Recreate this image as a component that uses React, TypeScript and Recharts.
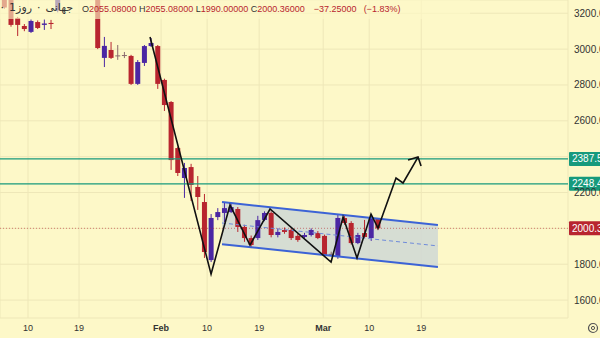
import React from 'react';
import {
  ComposedChart,
  Bar,
  Line,
  Area,
  XAxis,
  YAxis,
  CartesianGrid,
  ReferenceLine
} from 'recharts';

// daily candles, x is the bar index (hidden bars above the pane are left out)
const candleDay = [-1, 0, 1, 2, 3, 4, 5, 6, 7, 13, 14, 15, 16, 17, 18, 19, 20, 21, 22, 23, 24, 25, 26, 27, 28, 29, 30, 31, 32, 33, 34, 35, 36, 37, 38, 39, 40, 41, 42, 43, 44, 45, 46, 47, 48, 49, 50, 51, 52, 53, 54, 55];
const candleOpen = [3300, 3290, 3174, 3129, 3096, 3151, 3135, 3146, 3215, 3280, 2951, 2995, 2965, 2967, 2962, 2806, 2923, 3017, 3017, 2828, 2705, 2448, 2281, 2342, 2231, 2147, 1823, 2063, 2086, 2091, 2108, 2008, 1946, 1946, 2047, 2086, 1963, 1991, 1991, 1958, 1952, 1963, 1974, 1958, 1858, 1840, 2058, 2030, 1918, 1974, 1946, 2055.08];
const candleHigh = [3310, 3300, 3180, 3140, 3165, 3160, 3165, 3163, 3300, 3290, 3068, 3040, 3023, 2984, 2968, 2939, 3023, 3062, 3023, 2835, 2710, 2455, 2365, 2360, 2292, 2192, 2080, 2113, 2147, 2141, 2119, 2020, 1960, 2070, 2095, 2095, 2000, 2005, 2000, 1970, 1975, 2000, 1985, 1965, 1870, 2075, 2075, 2040, 1975, 2047, 2080, 2055.08];
const candleLow = [3225, 3125, 3073, 3100, 3090, 3112, 3107, 3112, 3205, 3000, 2900, 2945, 2940, 2950, 2800, 2800, 2906, 3012, 2778, 2655, 2326, 2292, 2170, 2153, 2103, 1835, 1812, 2046, 2035, 2086, 1980, 1925, 1890, 1935, 2040, 1950, 1950, 1970, 1935, 1925, 1945, 1955, 1940, 1840, 1850, 1830, 2020, 1910, 1912, 1945, 1930, 1990];
const candleClose = [3232, 3135, 3135, 3112, 3157, 3118, 3143, 3140, 3285, 3006, 3018, 2951, 2965, 2967, 2806, 2928, 3017, 3034, 2806, 2688, 2381, 2309, 2337, 2242, 2175, 1868, 2058, 2091, 2113, 2119, 2008, 1946, 1907, 2046, 2086, 1963, 1980, 1980, 1946, 1935, 1963, 1991, 1946, 1852, 1858, 2058, 2030, 1918, 1963, 1952, 2058, 2000.36];

// hand drawn projection path
const pathDay = [20.84, 29.99, 32.83, 35.83, 38.83, 47.98, 49.78, 51.87, 53.97, 55.02, 57.72, 58.77, 61.02];
const pathPrice = [3068, 1745, 2130, 1907, 2108, 1812, 2063, 1835, 2080, 2002, 2281, 2253, 2398];
const arrowDay = [59.52, 61.02, 61.47];
const arrowPrice = [2381, 2398, 2348];

// parallel channel
const channelDay = [31.63, 64.0];
const channelUpper = [2147, 2019];
const channelMiddle = [2030, 1902];
const channelLower = [1912, 1784];

const levelPrices = [2387.54, 2248.45];
const lastPrice = 2000.36;

const priceTicks = [1600, 1800, 2000, 2200, 2400, 2600, 2800, 3000, 3200];
const dateTicks = [2.55, 10.2, 22.5, 29.4, 37.2, 46.8, 53.7, 61.5];
const dateLabels = ['10', '19', 'Feb', '10', '19', 'Mar', '10', '19'];

const titleParts = ['اتریوم', '·', '1روز', '·', 'جهانی'];

const RED = '#B8252F';
const PURPLE = '#4B27A3';
const DOJI = '#8A6A6E';
const GREEN = '#179A7C';
const BG = '#FDF8C8';
const FONT = 'Liberation Sans, Arial, sans-serif';

const candles = candleDay.map((day, i) => ({
  day,
  o: candleOpen[i],
  h: candleHigh[i],
  l: candleLow[i],
  c: candleClose[i],
  range: [candleLow[i], candleHigh[i]]
}));

const pathData = pathDay.map((day, i) => ({ day, v: pathPrice[i] }));
const arrowData = arrowDay.map((day, i) => ({ day, v: arrowPrice[i] }));
const channelData = channelDay.map((day, i) => ({
  day,
  upper: channelUpper[i],
  middle: channelMiddle[i],
  lower: channelLower[i],
  band: [channelLower[i], channelUpper[i]]
}));

// price tags sit on top of these, so their axis text is hidden
const tagPrices = [...levelPrices, lastPrice];

const Candle = (props: any) => {
  const { x, y, width, height, payload } = props;
  if (x == null || y == null) return null;
  const { o, h, l, c } = payload;
  const color = c > o ? PURPLE : c < o ? RED : DOJI;
  const k = height / (h - l || 1);
  const top = y + (h - Math.max(o, c)) * k;
  const bot = y + (h - Math.min(o, c)) * k;
  const cx = x + width / 2;
  const bw = 5;
  return (
    <g>
      <line x1={cx} x2={cx} y1={y} y2={y + height} stroke={color} strokeWidth={1} />
      <rect x={cx - bw / 2} y={top} width={bw} height={Math.max(1, bot - top)} fill={color} />
    </g>
  );
};

const PriceTag = (props: any) => {
  const { viewBox, text, color } = props;
  if (!viewBox) return null;
  const right = viewBox.x + viewBox.width;
  return (
    <g>
      <rect x={right + 1} y={viewBox.y - 7} width={40} height={14} fill={color} rx={1} />
      <text x={right + 4} y={viewBox.y + 3.5} fill="#fff" fontSize={10} fontFamily={FONT}>
        {text}
      </text>
    </g>
  );
};

const PriceTick = (props: any) => {
  const { x, y, payload } = props;
  if (tagPrices.some((p) => Math.abs(p - payload.value) < 25)) return null;
  return (
    <text x={x - 2} y={y + 3.5} fill="#333" fontSize={10} fontFamily={FONT} textAnchor="start">
      {payload.value.toFixed(2)}
    </text>
  );
};

const DateTick = (props: any) => {
  const { x, y, index } = props;
  const label = dateLabels[index] ?? '';
  const bold = label === 'Feb' || label === 'Mar';
  return (
    <text x={x} y={y + 5} fill="#333" fontSize={9} fontWeight={bold ? 'bold' : 'normal'} fontFamily={FONT} textAnchor="middle">
      {label}
    </text>
  );
};

export default function App() {
  return (
    <div style={{ position: 'fixed', left: 0, top: 0, width: 600, height: 338, background: BG, overflow: 'hidden' }}>
      <ComposedChart width={600} height={338} data={candles} margin={{ top: 0, right: 0, bottom: 0, left: 0 }}>
        <CartesianGrid stroke="#EEE7B8" strokeWidth={1} />
        <XAxis
          type="number"
          dataKey="day"
          domain={[-1.65, 83.5]}
          allowDataOverflow
          ticks={dateTicks}
          tick={<DateTick />}
          axisLine={false}
          tickLine={false}
          height={20}
        />
        <YAxis
          orientation="right"
          type="number"
          domain={[1500, 3274]}
          allowDataOverflow
          ticks={priceTicks}
          tick={<PriceTick />}
          axisLine={false}
          tickLine={false}
          width={32}
        />
        <Area
          data={channelData}
          dataKey="band"
          type="linear"
          stroke="none"
          fill="#D2D9D4"
          fillOpacity={0.9}
          isAnimationActive={false}
        />
        {levelPrices.map((p) => (
          <ReferenceLine
            key={p}
            y={p}
            stroke={GREEN}
            strokeWidth={1.2}
            label={<PriceTag text={p.toFixed(2)} color={GREEN} />}
          />
        ))}
        <ReferenceLine
          y={lastPrice}
          stroke={RED}
          strokeOpacity={0.55}
          strokeDasharray="1 2"
          label={<PriceTag text={lastPrice.toFixed(2)} color={RED} />}
        />
        <Bar dataKey="range" barSize={5} shape={<Candle />} isAnimationActive={false} />
        <Line data={channelData} dataKey="middle" type="linear" stroke="#6F8BDA" strokeWidth={1} strokeDasharray="4 3" dot={false} isAnimationActive={false} />
        <Line data={channelData} dataKey="upper" type="linear" stroke="#3C63D6" strokeWidth={2} dot={false} isAnimationActive={false} />
        <Line data={channelData} dataKey="lower" type="linear" stroke="#3C63D6" strokeWidth={2} dot={false} isAnimationActive={false} />
        <Line data={pathData} dataKey="v" type="linear" stroke="#111" strokeWidth={1.6} dot={false} isAnimationActive={false} />
        <Line data={arrowData} dataKey="v" type="linear" stroke="#111" strokeWidth={1.6} dot={false} isAnimationActive={false} />
      </ComposedChart>

      {/* legend row */}
      <div style={{ position: 'absolute', left: 0, top: 0, width: 470, height: 19, background: 'rgba(253,248,200,0.62)' }} />
      <div style={{ position: 'absolute', right: 600 - 73, top: 1, display: 'flex', gap: 5, whiteSpace: 'nowrap', fontSize: 11, color: '#333', fontFamily: 'DejaVu Sans, sans-serif', direction: 'ltr' }}>
        {titleParts.map((t, i) => (
          <span key={i}>{t}</span>
        ))}
      </div>
      <div style={{ position: 'absolute', left: 82, top: 4, whiteSpace: 'nowrap', fontSize: 9, fontFamily: FONT, color: '#333' }}>
        O<span style={{ color: RED }}>2055.08000</span>{' '}
        H<span style={{ color: RED }}>2055.08000</span>{' '}
        L<span style={{ color: RED }}>1990.00000</span>{' '}
        C<span style={{ color: RED }}>2000.36000</span>
        <span style={{ color: RED, marginLeft: 9 }}>−37.25000</span>
        <span style={{ color: RED, marginLeft: 7 }}>(−1.83%)</span>
      </div>
      <svg style={{ position: 'absolute', left: 587, top: 322 }} width={12} height={12}>
        <circle cx={6} cy={6} r={4.5} fill="none" stroke="#555" strokeWidth={1.2} />
        <circle cx={6} cy={6} r={1.6} fill="none" stroke="#555" strokeWidth={1} />
      </svg>
    </div>
  );
}
